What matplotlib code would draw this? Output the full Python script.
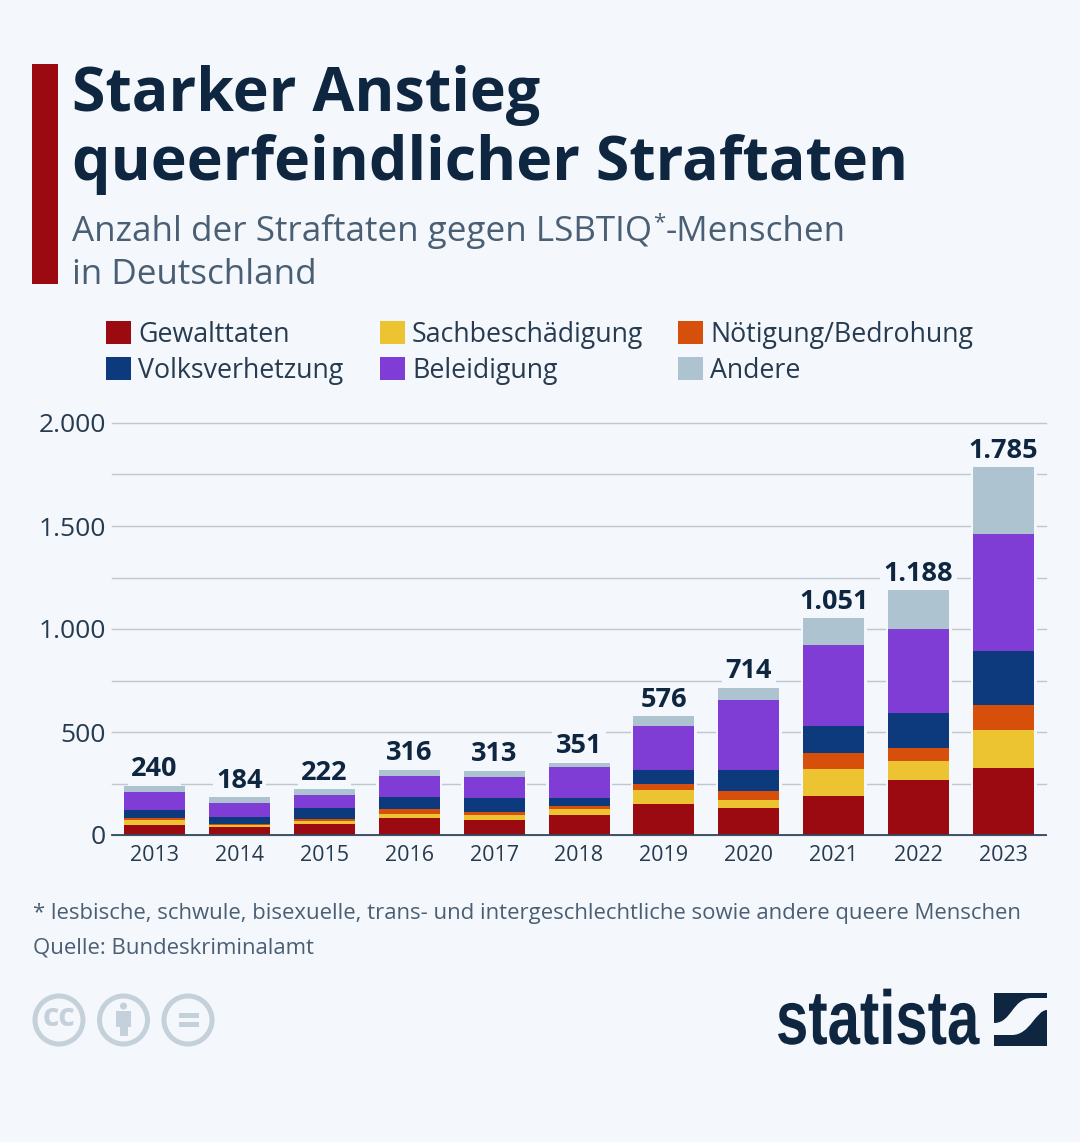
import matplotlib
matplotlib.use("Agg")
import matplotlib.pyplot as plt
from matplotlib.patches import Rectangle, Circle, PathPatch
from matplotlib.path import Path
from matplotlib.patheffects import AbstractPathEffect
from matplotlib.transforms import Affine2D

years = [2013, 2014, 2015, 2016, 2017, 2018, 2019, 2020, 2021, 2022, 2023]
totals = [240, 184, 222, 316, 313, 351, 576, 714, 1051, 1188, 1785]
gewalt = [50, 39, 53, 81, 74, 99, 150, 133, 189, 267, 324]
sachbesch = [24, 10, 13, 21, 25, 27, 68, 35, 131, 91, 187]
noetigung = [9, 4, 13, 23, 13, 16, 30, 47, 80, 64, 118]
volksverh = [37, 34, 50, 61, 69, 39, 69, 102, 127, 170, 266]
beleidigung = [90, 68, 64, 100, 101, 148, 210, 338, 395, 408, 566]
andere = [30, 29, 29, 30, 31, 22, 49, 59, 129, 188, 324]

series_names = ["Gewalttaten", "Sachbeschädigung", "Nötigung/Bedrohung",
                "Volksverhetzung", "Beleidigung", "Andere"]
series_values = [gewalt, sachbesch, noetigung, volksverh, beleidigung, andere]
series_colors = ["#9b0a10", "#ecc431", "#d6500c", "#0c3a7c", "#7f3dd6", "#adc3cf"]

y_ticks = [0, 500, 1000, 1500, 2000]
y_tick_labels = ["0", "500", "1.000", "1.500", "2.000"]
y_minor = [250, 750, 1250, 1750]

bg = "#f4f7fb"
dark = "#0e2640"
gray = "#4a5f74"
label_color = "#263b50"
icon = "#c5d1da"

plt.rcParams["font.family"] = ["Open Sans", "DejaVu Sans"]


class Squeeze(AbstractPathEffect):
    # narrows the glyphs, no condensed bold font is installed for the logo
    def __init__(self, sx, dx):
        super().__init__()
        self.sx = sx
        self.dx = dx

    def draw_path(self, renderer, gc, tpath, affine, rgbFace = None):
        squeezed = Affine2D().scale(self.sx, 1) + affine + Affine2D().translate(self.dx, 0)
        renderer.draw_path(gc, tpath, squeezed, rgbFace)


fig = plt.figure(figsize = (10.8, 11.42), dpi = 100, facecolor = bg)

# page axes in pixels, everything outside the chart goes here
page = fig.add_axes([0, 0, 1, 1])
page.set_xlim(0, 1080)
page.set_ylim(1142, 0)
page.axis("off")

page.add_patch(Rectangle((32, 64), 26, 220, color = "#9b0a10", lw = 0))
page.text(72, 111, "Starker Anstieg", fontsize = 43.8, fontweight = "bold",
          color = dark, va = "baseline", ha = "left")
page.text(72, 180, "queerfeindlicher Straftaten", fontsize = 43.8, fontweight = "bold",
          color = dark, va = "baseline", ha = "left")
page.text(72, 241, "Anzahl der Straftaten gegen LSBTIQ", fontsize = 25.2, color = gray,
          va = "baseline", ha = "left")
page.text(653, 228, "*", fontsize = 16, color = gray, va = "baseline", ha = "left")
page.text(666, 241, "-Menschen", fontsize = 25.2, color = gray, va = "baseline", ha = "left")
page.text(72, 284, "in Deutschland", fontsize = 25.2, color = gray, va = "baseline", ha = "left")

# legend
legend_x = [106, 380, 678, 106, 380, 678]
legend_y = [332, 332, 332, 368, 368, 368]
for name, color, lx, ly in zip(series_names, series_colors, legend_x, legend_y):
    page.add_patch(Rectangle((lx, ly - 11.5), 25, 23, color = color, lw = 0))
    page.text(lx + 32, ly + 3, name, fontsize = 19.3, color = label_color, va = "center", ha = "left")

# footer
page.text(33, 914, "* lesbische, schwule, bisexuelle, trans- und intergeschlechtliche sowie andere queere Menschen",
          fontsize = 15.95, color = gray, va = "center", ha = "left")
page.text(33, 948, "Quelle: Bundeskriminalamt", fontsize = 15.95, color = gray, va = "center", ha = "left")

# licence icons
for cx in [59, 123.5, 188]:
    page.add_patch(Circle((cx, 1020), 24, fill = False, ec = icon, lw = 3.6))
page.text(59, 1018, "cc", fontsize = 23, fontweight = "bold", color = icon, va = "center", ha = "center")
page.add_patch(Circle((123.5, 1006), 3.5, color = icon, lw = 0))
page.add_patch(Rectangle((116, 1011), 15, 16, color = icon, lw = 0))
page.add_patch(Rectangle((119.5, 1025), 8, 11, color = icon, lw = 0))
page.add_patch(Rectangle((178.5, 1013), 20, 5, color = icon, lw = 0))
page.add_patch(Rectangle((178.5, 1022), 20, 5, color = icon, lw = 0))

# statista logo
logo_text = page.text(705, 1044, "statista", fontsize = 55, fontweight = "bold", color = dark,
                      va = "baseline", ha = "left", family = "Liberation Sans")
logo_text.set_path_effects([Squeeze(0.76, 71)])
page.add_patch(Rectangle((994, 993), 53, 53, color = dark, lw = 0))
band = Path(
    [(994, 1023), (1012, 1023), (1012, 998), (1032, 998), (1047, 998),
     (1047, 1010), (1036, 1010), (1030, 1035), (1012, 1035), (994, 1035), (994, 1023)],
    [Path.MOVETO, Path.CURVE4, Path.CURVE4, Path.CURVE4, Path.LINETO,
     Path.LINETO, Path.CURVE4, Path.CURVE4, Path.CURVE4, Path.LINETO, Path.LINETO])
page.add_patch(PathPatch(band, fc = bg, ec = bg, lw = 0))

# chart axes, x in bar index units
plot_left, plot_right, plot_top, plot_bottom = 112, 1046, 423, 835
ax = fig.add_axes([plot_left/1080, 1 - plot_bottom/1142,
                   (plot_right - plot_left)/1080, (plot_bottom - plot_top)/1142])
ax.patch.set_alpha(0)
step = 84.9
ax.set_xlim(-(154.5 - plot_left)/step, (plot_right - 154.5)/step)
ax.set_ylim(0, 2000)

positions = list(range(len(years)))
bottoms = [0]*len(years)
for values, color in zip(series_values, series_colors):
    ax.bar(positions, values, bottom = bottoms, width = 61/step, color = color, zorder = 3)
    bottoms = [b + v for b, v in zip(bottoms, values)]

# background strip around the bars cuts the grid lines
ax.bar(positions, totals, width = 66/step, color = bg, zorder = 2)

# labels stay under the bars so their box does not clip the bar tops
for x, total in zip(positions, totals):
    label = f"{total:,}".replace(",", ".")
    ax.annotate(label, (x, total), xytext = (0, 2.5), textcoords = "offset points",
                ha = "center", va = "bottom", fontsize = 19.5, fontweight = "bold", color = dark,
                zorder = 2.5, bbox = dict(fc = bg, ec = "none", pad = 2.5))

ax.set_yticks(y_ticks, y_tick_labels)
ax.set_yticks(y_minor, minor = True)
ax.set_xticks(positions, [str(y) for y in years])
ax.tick_params(axis = "y", which = "both", length = 0, pad = 4.5, labelsize = 19, labelcolor = label_color)
ax.tick_params(axis = "x", length = 0, pad = 7, labelsize = 15.5, labelcolor = label_color)
ax.grid(True, axis = "y", which = "both", color = "#bfc8d0", linewidth = 1.0, zorder = 1, clip_on = False)
ax.grid(False, axis = "x")
ax.set_axisbelow(True)
for side in ["top", "left", "right"]:
    ax.spines[side].set_visible(False)
ax.spines["bottom"].set_color("#33465a")
ax.spines["bottom"].set_linewidth(1.3)
ax.spines["bottom"].set_zorder(5)

fig.savefig("out.png", dpi = 100, facecolor = bg)
